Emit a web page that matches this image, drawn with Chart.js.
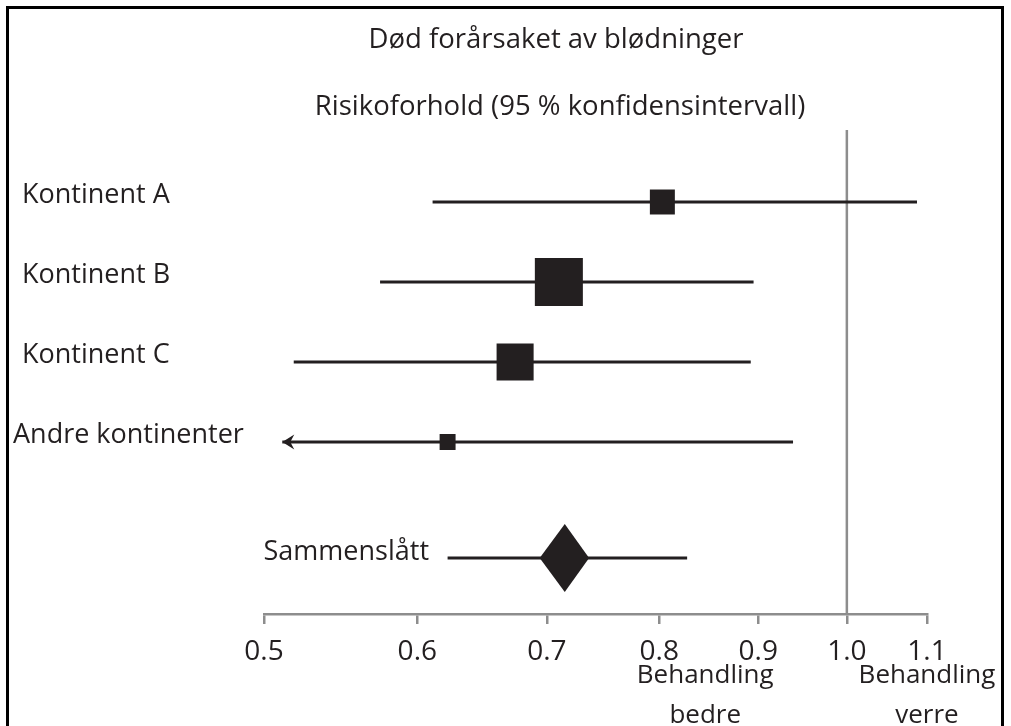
<!DOCTYPE html>
<html>
<head>
<meta charset="utf-8">
<script src="https://cdn.jsdelivr.net/npm/chart.js@4.4.0/dist/chart.umd.min.js"></script>
<style>
  html, body { margin: 0; padding: 0; background: #fff; }
  #wrap { position: relative; width: 1011px; height: 726px; overflow: hidden; }
  #frame { position: absolute; left: 6px; top: 6px; width: 992px; height: 800px; border: 3px solid #000; border-bottom: none; }
  canvas { position: absolute; left: 0; top: 0; }
</style>
</head>
<body>
<div id="wrap">
  <canvas id="myChart" width="1011" height="726"></canvas>
  <div id="frame"></div>
</div>
<script>
var chartRows = ['Kontinent A', 'Kontinent B', 'Kontinent C', 'Andre kontinenter', 'Sammenslått'];
var riskRatio = [0.803, 0.710, 0.674, 0.622, 0.715];
var ciLow = [0.611, 0.574, 0.518, 0.511, 0.622];
var ciHigh = [1.087, 0.895, 0.892, 0.938, 0.827];
var truncatedLow = [false, false, false, true, false];
var studyWeight = [13.7, 50.6, 30.1, 5.6];
var pooledDiamond = [0.694, 0.736];
var xTicks = [0.5, 0.6, 0.7, 0.8, 0.9, 1.0, 1.1];

var titleText = 'Død forårsaket av blødninger';
var subtitleText = 'Risikoforhold (95 % konfidensintervall)';
var betterText = ['Behandling', 'bedre'];
var worseText = ['Behandling', 'verre'];

var dark = '#231f20';
var gray = '#8d8d8d';
var family = '"Open Sans", sans-serif';

function rowY(i) {
  // pooled row sits further down than the others
  return i < 4 ? i : i + 0.45;
}

var datasets = [];

// weighted squares
datasets.push({
  data: riskRatio.slice(0, 4).map(function (v, i) { return {x: v, y: rowY(i)}; }),
  pointStyle: 'rect',
  pointRadius: studyWeight.map(function (w) { return Math.sqrt(w) * 6.75 / Math.SQRT2; }),
  backgroundColor: dark,
  borderWidth: 0,
  showLine: false,
  clip: false
});

// confidence intervals
for (var i = 0; i < chartRows.length; i++) {
  datasets.push({
    data: [{x: ciLow[i], y: rowY(i)}, {x: ciHigh[i], y: rowY(i)}],
    showLine: true,
    borderColor: dark,
    borderWidth: 3,
    pointRadius: 0,
    clip: false
  });
}

// no-effect line at 1.0
datasets.push({
  data: [{x: 1.0, y: -0.9}, {x: 1.0, y: 5.15}],
  showLine: true,
  borderColor: gray,
  borderWidth: 2.5,
  pointRadius: 0
});

var extras = {
  id: 'extras',
  afterDatasetsDraw: function (chart) {
    var ctx = chart.ctx;
    var x = chart.scales.x, y = chart.scales.y;
    ctx.save();
    ctx.fillStyle = dark;

    // pooled diamond
    var py = y.getPixelForValue(rowY(4));
    var cx = x.getPixelForValue(riskRatio[4]);
    ctx.beginPath();
    ctx.moveTo(x.getPixelForValue(pooledDiamond[0]), py);
    ctx.lineTo(cx, py - 34);
    ctx.lineTo(x.getPixelForValue(pooledDiamond[1]), py);
    ctx.lineTo(cx, py + 34);
    ctx.closePath();
    ctx.fill();

    // arrowheads for intervals running off the scale
    for (var i = 0; i < chartRows.length; i++) {
      if (!truncatedLow[i]) continue;
      var ay = y.getPixelForValue(rowY(i));
      var ax = x.getPixelForValue(ciLow[i]);
      ctx.beginPath();
      ctx.moveTo(ax, ay);
      ctx.lineTo(ax + 12, ay - 7.5);
      ctx.lineTo(ax + 8, ay);
      ctx.lineTo(ax + 12, ay + 7.5);
      ctx.closePath();
      ctx.fill();
    }
    ctx.restore();
  },
  afterDraw: function (chart) {
    var ctx = chart.ctx;
    var x = chart.scales.x, y = chart.scales.y;
    ctx.save();
    ctx.fillStyle = dark;
    ctx.textBaseline = 'middle';

    ctx.font = '27.5px ' + family;
    ctx.textAlign = 'center';
    ctx.fillText(titleText, 556, 40);
    ctx.fillText(subtitleText, 560, 107);

    // row labels
    ctx.font = '27px ' + family;
    ctx.textAlign = 'left';
    for (var i = 0; i < 4; i++) {
      var lx = i === 3 ? 13 : 22;
      ctx.fillText(chartRows[i], lx, y.getPixelForValue(rowY(i)) - 7);
    }
    ctx.textAlign = 'right';
    ctx.fillText(chartRows[4], 429, y.getPixelForValue(rowY(4)) - 6);

    // direction labels under the axis
    ctx.font = '26px ' + family;
    ctx.textAlign = 'center';
    var bx = x.getPixelForValue(0.845);
    var wx = x.getPixelForValue(1.1);
    ctx.fillText(betterText[0], bx, 676);
    ctx.fillText(betterText[1], bx, 716);
    ctx.fillText(worseText[0], wx, 676);
    ctx.fillText(worseText[1], wx, 716);
    ctx.restore();
  }
};

var ctx = document.getElementById('myChart').getContext('2d');
var myChart = new Chart(ctx, {
  type: 'scatter',
  data: { datasets: datasets },
  options: {
    responsive: false,
    animation: false,
    events: [],
    layout: { padding: { left: 264, right: 84, top: 130, bottom: 52 } },
    plugins: {
      legend: { display: false },
      tooltip: { enabled: false }
    },
    scales: {
      x: {
        type: 'logarithmic',
        min: 0.5,
        max: 1.1,
        afterBuildTicks: function (s) {
          s.ticks = xTicks.map(function (v) { return {value: v}; });
        },
        afterFit: function (s) { s.height = 60; },
        grid: { display: true, drawOnChartArea: false, drawTicks: true, tickLength: 10, color: gray, lineWidth: 2.5 },
        border: { display: true, color: gray, width: 2.5 },
        ticks: {
          color: dark,
          font: { family: family, size: 28 },
          padding: 11,
          autoSkip: false,
          maxRotation: 0,
          callback: function (v) { return Number(v).toFixed(1); }
        }
      },
      y: { type: 'linear', reverse: true, min: -0.9, max: 5.15, display: false }
    }
  },
  plugins: [extras]
});
</script>
</body>
</html>
